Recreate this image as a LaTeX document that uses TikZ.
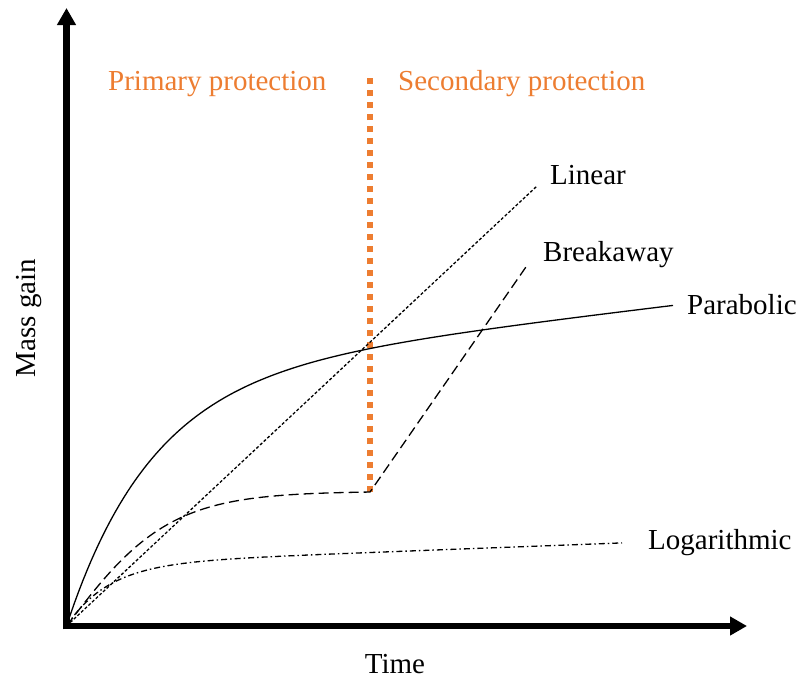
\documentclass[tikz,border=0pt]{standalone}
\usepackage{fontspec}
\setmainfont{Liberation Serif}
\usetikzlibrary{arrows.meta}
\definecolor{protorange}{RGB}{237,125,49}
\begin{document}
\begin{tikzpicture}[x=1pt,y=-1pt,
  axisline/.style={line width=6.5pt,-{Triangle[length=17pt,width=18pt]}},
  lbl/.style={inner sep=0pt,font=\fontsize{29}{34}\selectfont},
  olbl/.style={lbl,text=protorange},
  curvebase/.style={line width=1.3pt,line join=round},
  linearcurve/.style={curvebase,dash pattern=on 3pt off 2pt},
  breakcurve/.style={curvebase,dash pattern=on 10pt off 5pt},
  logcurve/.style={curvebase,dash pattern=on 6pt off 3pt on 1.5pt off 3pt},
  paracurve/.style={curvebase},
  protline/.style={protorange,line width=6pt,dash pattern=on 6pt off 6pt}]
\useasboundingbox (0,0) rectangle (800,678);
\fill[white] (0,0) rectangle (800,678);
% coordinates
\coordinate (O) at (66.5,626);
\coordinate (ybot) at (66.5,629.3);
\coordinate (ytip) at (66.5,8);
\coordinate (xleft) at (63.2,626);
\coordinate (xtip) at (747,626);
\coordinate (lintop) at (537,186);
\coordinate (brktop) at (528,264);
\coordinate (protbot) at (370,492);
\coordinate (prottop) at (370,78);
% axes
\draw[axisline] (ybot) -- (ytip);
\draw[axisline] (xleft) -- (xtip);
% protection boundary
\draw[protline] (protbot) -- (prottop);
% linear
\draw[linearcurve] (O) -- (lintop);
% parabolic
\draw[paracurve] plot[domain=0:606.5,samples=150,variable=\t]
  ({66.5+\t},{626-248*(1-exp(-\t/85))-0.12*\t});
% breakaway
\draw[breakcurve] plot[domain=0:303.5,samples=100,variable=\t]
  ({66.5+\t},{626-134.7*tanh(\t/102.9)}) -- (brktop);
% logarithmic
\draw[logcurve] plot[domain=0:555.5,samples=150,variable=\t]
  ({66.5+\t},{626-62*(1-exp(-\t/42))-0.038*\t});
% labels
\node[olbl,anchor=base west] (prim) at (108,90) {Primary protection};
\node[olbl,anchor=base west] (sec) at (398,90) {Secondary protection};
\node[lbl,anchor=base west] (linlbl) at (550,184) {Linear};
\node[lbl,anchor=base west] (brklbl) at (543,261) {Breakaway};
\node[lbl,anchor=base west] (paralbl) at (687,314) {Parabolic};
\node[lbl,anchor=base west] (loglbl) at (648,549) {Logarithmic};
\node[lbl,anchor=base] (timelbl) at (395,673) {Time};
\node[lbl,anchor=base,rotate=90] (masslbl) at (35,318) {Mass gain};
\end{tikzpicture}
\end{document}
